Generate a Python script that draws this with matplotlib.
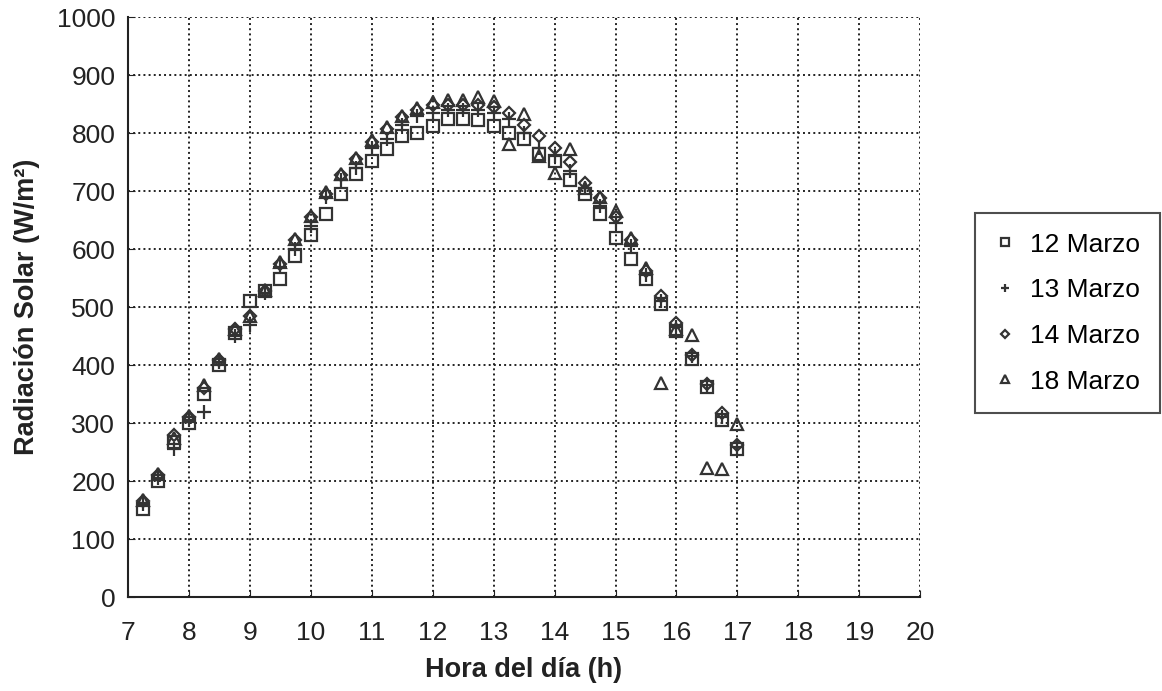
import matplotlib
matplotlib.use("Agg")
import matplotlib.pyplot as plt
import numpy as np

plt.rcParams["font.family"] = ["Liberation Sans", "DejaVu Sans"]

# hora del dia, cada 15 minutos
hours = [7.25, 7.5, 7.75, 8.0, 8.25, 8.5, 8.75, 9.0, 9.25, 9.5,
         9.75, 10.0, 10.25, 10.5, 10.75, 11.0, 11.25, 11.5, 11.75, 12.0,
         12.25, 12.5, 12.75, 13.0, 13.25, 13.5, 13.75, 14.0, 14.25, 14.5,
         14.75, 15.0, 15.25, 15.5, 15.75, 16.0, 16.25, 16.5, 16.75, 17.0]

marzo_12 = [152, 200, 268, 300, 350, 400, 455, 510, 528, 548,
            588, 625, 660, 695, 730, 752, 772, 795, 800, 812,
            825, 825, 822, 812, 800, 790, 765, 752, 720, 695,
            660, 620, 583, 548, 505, 458, 410, 362, 305, 255]

marzo_13 = [160, 205, 255, 305, 320, 405, 450, 470, 525, 570,
            600, 640, 690, 720, 740, 775, 790, 815, 830, 835,
            840, 840, 840, 835, 825, 800, 775, 760, 735, 705,
            675, 645, 605, 555, 510, 465, 415, 365, 310, 258]

marzo_14 = [165, 210, 280, 310, 360, 408, 462, 485, 528, 575,
            615, 655, 695, 728, 755, 785, 808, 828, 840, 848,
            848, 848, 848, 845, 835, 815, 795, 775, 750, 715,
            688, 655, 615, 563, 520, 472, 418, 368, 318, 262]

marzo_18 = [168, 212, 275, 312, 365, 410, 462, 485, 530, 578,
            618, 658, 698, 730, 758, 788, 810, 830, 843, 853,
            858, 858, 862, 855, 782, 833, 760, 732, 772, 705,
            690, 665, 620, 568, 370, 462, 452, 223, 220, 299]

series = [
    ("12 Marzo", marzo_12, "s", 8.5),
    ("13 Marzo", marzo_13, "+", 10),
    ("14 Marzo", marzo_14, "D", 6.5),
    ("18 Marzo", marzo_18, "^", 8.5),
]

ink = "#333333"

fig = plt.figure(figsize=(11.62, 6.91), dpi=100)
ax = fig.add_axes([0.110, 0.136, 0.682, 0.839])

for label, vals, mk, ms in series:
    ax.plot(hours, vals, linestyle="none", marker=mk, markersize=ms,
            markerfacecolor="none", markeredgecolor=ink, markeredgewidth=1.6,
            label=label)

ax.set_xlim(7, 20)
ax.set_ylim(0, 1000)
ax.set_xticks(np.arange(7, 21, 1))
ax.set_yticks(np.arange(0, 1001, 100))
ax.tick_params(labelsize=19, colors="#222222", direction="in", length=5)
ax.tick_params(axis="y", pad=9)
ax.tick_params(axis="x", pad=17)
ax.grid(True, linestyle=":", color="#222222", linewidth=1.4)
for s in ["top", "right"]:
    ax.spines[s].set_visible(False)
for s in ["left", "bottom"]:
    ax.spines[s].set_color("#222222")
    ax.spines[s].set_linewidth(1.5)

ax.set_xlabel("Hora del día (h)", fontsize=19.5, fontweight="bold", color="#222222", labelpad=9)
ax.set_ylabel("Radiación Solar (W/m²)", fontsize=19.5, fontweight="bold", color="#222222", labelpad=12)

leg = fig.legend(loc="upper left", bbox_to_anchor=(0.839, 0.692), fontsize=19,
                 fancybox=False, edgecolor="#222222", frameon=True,
                 handlelength=0.8, handletextpad=0.55, labelspacing=0.82,
                 borderpad=0.75, borderaxespad=0, markerscale=0.6)
leg.get_frame().set_linewidth(1.5)

fig.savefig("out.png", dpi=100)
